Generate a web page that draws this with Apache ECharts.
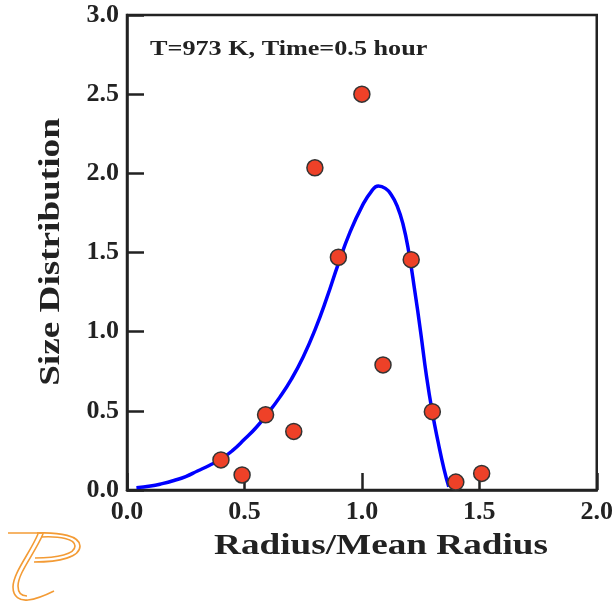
<!DOCTYPE html>
<html>
<head>
<meta charset="utf-8">
<script src="https://cdn.jsdelivr.net/npm/echarts@6/dist/echarts.min.js"></script>
<style>html,body{margin:0;padding:0;background:#fff}#c{width:616px;height:604px}</style>
</head>
<body>
<div id="c"></div>
<script>
// Measured points
const pointX = [0.40, 0.49, 0.59, 0.71, 0.80, 0.90, 1.00, 1.09, 1.21, 1.30, 1.40, 1.51];
const pointY = [0.19, 0.095, 0.475, 0.37, 2.035, 1.47, 2.50, 0.79, 1.455, 0.495, 0.05, 0.105];
// Fitted curve
const curveX = [0.04, 0.10, 0.15, 0.20, 0.25, 0.30, 0.35, 0.40, 0.45, 0.50, 0.55, 0.60, 0.65, 0.70, 0.75, 0.80, 0.85, 0.90, 0.95, 1.00, 1.04, 1.07, 1.10, 1.125, 1.15, 1.175, 1.20, 1.225, 1.25, 1.275, 1.30, 1.325, 1.35, 1.37];
const curveY = [0.015, 0.025, 0.04, 0.06, 0.085, 0.12, 0.155, 0.195, 0.25, 0.32, 0.395, 0.485, 0.585, 0.70, 0.84, 1.01, 1.21, 1.43, 1.63, 1.79, 1.885, 1.92, 1.905, 1.865, 1.795, 1.68, 1.50, 1.26, 1.00, 0.72, 0.49, 0.30, 0.13, 0.02];
const xTicks = [0, 0.5, 1.0, 1.5, 2.0];
const yTicks = [0, 0.5, 1.0, 1.5, 2.0, 2.5, 3.0];
const annotation = 'T=973 K, Time=0.5 hour';
const xTitle = 'Radius/Mean Radius';
const yTitle = 'Size Distribution';

const FONT = '"Liberation Serif", "Times New Roman", serif';
const chart = echarts.init(document.getElementById('c'), null, {renderer: 'canvas'});
const axisLabel = {fontFamily: FONT, fontWeight: 'bold', fontSize: 26, color: '#222',
  formatter: v => v.toFixed(1)};

// logo decoration strokes (cubic segments: x1,y1,cx1,cy1,cx2,cy2,x2,y2)
const logoSegs = [
  [29,2, 52,1, 72,5, 72,15], [72,15, 72,26, 52,31, 26,31],
  [33,6, 52,5, 67,8, 67,15], [67,15, 67,23, 50,27, 27,27],
  [30,3, 22,22, 5,42, 5,56], [5,56, 5,66, 12,70, 20,69], [20,69, 30,68, 38,64, 46,60],
  [35,3, 27,22, 10,42, 10,55], [10,55, 10,62, 14,65, 19,65]
];
const logoStyle = {stroke: '#f39b35', lineWidth: 1.6, fill: null};
const logoChildren = [{type: 'line', shape: {x1: 0, y1: 2, x2: 36, y2: 2}, style: logoStyle}]
  .concat(logoSegs.map(s => ({type: 'bezierCurve',
    shape: {x1: s[0], y1: s[1], cpx1: s[2], cpy1: s[3], cpx2: s[4], cpy2: s[5], x2: s[6], y2: s[7]},
    style: logoStyle})));

chart.setOption({
  animation: false,
  backgroundColor: '#fff',
  grid: {left: 127, right: 14, top: 15, bottom: 114, show: true, borderColor: '#222', borderWidth: 2.5, backgroundColor: 'transparent'},
  xAxis: {
    type: 'value', min: xTicks[0], max: xTicks[xTicks.length - 1], interval: 0.5,
    axisLine: {show: true, onZero: false, lineStyle: {color: '#222', width: 2.5}},
    axisTick: {show: true, inside: true, length: 17, lineStyle: {color: '#222', width: 2.5}},
    splitLine: {show: false},
    axisLabel: Object.assign({margin: 9}, axisLabel)
  },
  yAxis: {
    type: 'value', min: yTicks[0], max: yTicks[yTicks.length - 1], interval: 0.5,
    axisLine: {show: true, onZero: false, lineStyle: {color: '#222', width: 2.5}},
    axisTick: {show: true, inside: true, length: 17, lineStyle: {color: '#222', width: 2.5}},
    splitLine: {show: false},
    axisLabel: Object.assign({margin: 8}, axisLabel)
  },
  graphic: [
    {type: 'text', x: 150, y: 49, scaleX: 1.19,
      style: {text: annotation, font: 'bold 22px ' + FONT, fill: '#222', align: 'left', verticalAlign: 'middle'}},
    {type: 'text', x: 381, y: 546, scaleX: 1.24,
      style: {text: xTitle, font: 'bold 30px ' + FONT, fill: '#222', align: 'center', verticalAlign: 'middle'}},
    {type: 'text', x: 51, y: 252, rotation: Math.PI / 2, scaleX: 1.24,
      style: {text: yTitle, font: 'bold 30px ' + FONT, fill: '#222', align: 'center', verticalAlign: 'middle'}},
    {type: 'group', x: 8, y: 531, children: logoChildren}
  ],
  series: [
    {type: 'line', data: curveX.map((x, i) => [x, curveY[i]]), showSymbol: false, smooth: 0.5,
      lineStyle: {color: '#0000ff', width: 3.5}, z: 2},
    {type: 'scatter', data: pointX.map((x, i) => [x, pointY[i]]), symbolSize: 16,
      itemStyle: {color: '#ee4128', borderColor: '#333', borderWidth: 1.5, opacity: 1}, z: 3}
  ]
});
</script>
</body>
</html>
